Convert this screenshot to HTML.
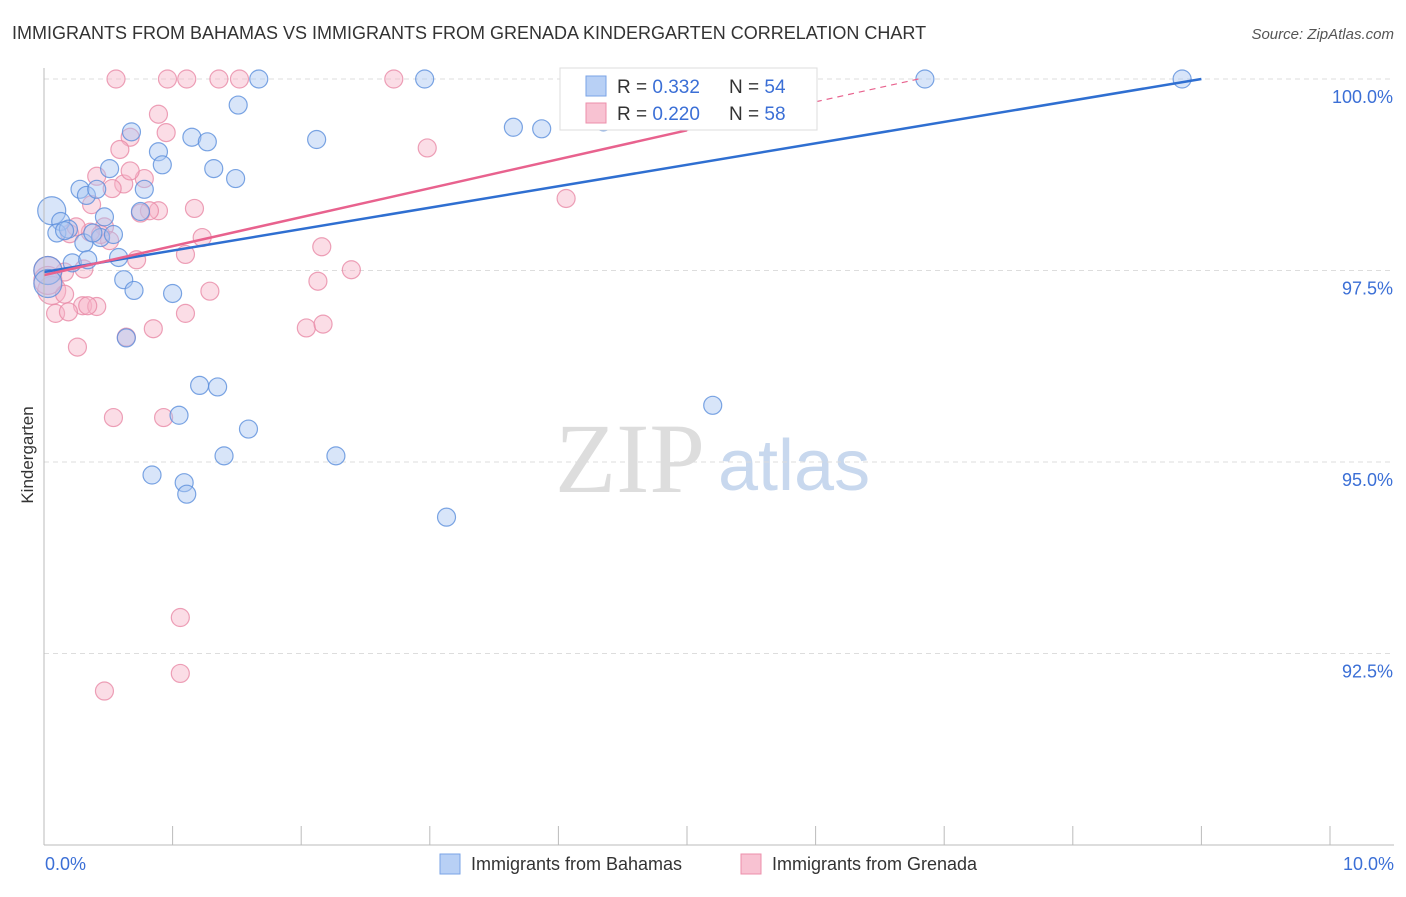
<!DOCTYPE html>
<html><head><meta charset="utf-8"><style>
body{margin:0;background:#fff;font-family:"Liberation Sans",sans-serif;}
</style></head><body>
<svg id="c" width="1406" height="892" xmlns="http://www.w3.org/2000/svg">
<text x="12" y="39" font-size="18" fill="#333">IMMIGRANTS FROM BAHAMAS VS IMMIGRANTS FROM GRENADA KINDERGARTEN CORRELATION CHART</text>
<text x="1394" y="39" font-size="15" fill="#555" font-style="italic" text-anchor="end">Source: ZipAtlas.com</text>
<text x="555" y="492" font-size="100" fill="#ddd" font-family="Liberation Serif,serif">ZIP</text>
<text x="718" y="490" font-size="72" fill="#c8d8ee">atlas</text>
<text x="33" y="455" font-size="17" fill="#333" transform="rotate(-90 33 455)" text-anchor="middle">Kindergarten</text>
<g id="grid"></g><g id="pts"></g><g id="lines"></g>
<line x1="44" y1="68" x2="44" y2="845" stroke="#bbb"/>
<line x1="44" y1="845" x2="1394" y2="845" stroke="#bbb"/>
<text x="45" y="870" font-size="18" fill="#3b6fd6">0.0%</text>
<text x="1394" y="870" font-size="18" fill="#3b6fd6" text-anchor="end">10.0%</text>
<g>
<rect x="560" y="68" width="257" height="62" fill="#fff" stroke="#ddd"/>
<rect x="586" y="76" width="20" height="20" fill="#b8d0f5" stroke="#7aa3e6"/>
<rect x="586" y="103" width="20" height="20" fill="#f8c2d2" stroke="#ec8fab"/>
<text x="617" y="93" font-size="19" fill="#333">R = <tspan fill="#3b6fd6">0.332</tspan><tspan x="729">N = </tspan><tspan fill="#3b6fd6">54</tspan></text>
<text x="617" y="120" font-size="19" fill="#333">R = <tspan fill="#3b6fd6">0.220</tspan><tspan x="729">N = </tspan><tspan fill="#3b6fd6">58</tspan></text>
</g>
<g>
<rect x="440" y="854" width="20" height="20" fill="#b8d0f5" stroke="#7aa3e6"/>
<text x="471" y="870" font-size="18" fill="#333">Immigrants from Bahamas</text>
<rect x="741" y="854" width="20" height="20" fill="#f8c2d2" stroke="#ec8fab"/>
<text x="772" y="870" font-size="18" fill="#333">Immigrants from Grenada</text>
</g>
</svg>
<script>
const yTicks=[100,97.5,95,92.5];
const xTickVals=[0,1,2,3,4,5,6,7,8,9,10];
const bahamasX=[0.06,0.13,0.10,0.19,0.31,0.28,0.33,0.41,0.47,0.51,0.44,0.54,0.58,0.62,0.68,0.70,0.75,0.78,0.89,0.92,1.00,1.05,1.15,1.21,1.27,1.32,1.35,1.40,1.49,1.51,1.59,1.67,2.12,2.27,0.84,1.09,1.11,0.64,2.96,3.13,3.65,3.87,4.35,4.94,5.20,5.91,6.85,8.85,0.03,0.03,0.22,0.16,0.38,0.34];
const bahamasY=[98.28,98.14,97.99,98.04,97.86,98.56,98.48,98.56,98.2,98.83,97.93,97.97,97.67,97.38,99.31,97.24,98.27,98.56,99.05,98.88,97.2,95.61,99.24,96.0,99.18,98.83,95.98,95.08,98.7,99.66,95.43,100,99.21,95.08,94.83,94.73,94.58,96.62,100,94.28,99.37,99.35,99.44,100,95.74,100,100,100,97.5,97.33,97.6,98.02,97.99,97.64];
const grenadaX=[0.56,0.96,1.11,1.36,1.52,2.72,0.89,0.95,0.67,0.59,0.78,0.62,0.53,0.41,0.37,0.67,0.89,0.82,1.17,0.75,0.47,0.36,0.20,0.51,1.23,1.10,0.72,2.16,2.39,0.31,0.16,0.03,0.06,0.16,1.29,2.13,0.30,0.41,0.34,0.09,0.19,1.10,0.85,2.04,2.17,0.64,0.26,0.54,0.93,1.06,1.06,0.47,2.98,4.06,4.73,0.03,0.25,0.44];
const grenadaY=[100,100,100,100,100,100,99.54,99.3,99.24,99.08,98.7,98.63,98.57,98.73,98.36,98.8,98.28,98.28,98.31,98.25,98.07,98.0,97.98,97.89,97.93,97.71,97.64,97.81,97.51,97.52,97.48,97.5,97.24,97.19,97.23,97.36,97.04,97.03,97.04,96.94,96.96,96.94,96.74,96.75,96.8,96.63,96.5,95.58,95.58,92.97,92.24,92.01,99.1,98.44,99.77,97.37,98.07,97.97];
const X=v=>44+v*128.6, Y=v=>79+(100-v)*76.6;
const NS='http://www.w3.org/2000/svg';
function mk(t,a,p){const e=document.createElementNS(NS,t);for(const k in a)e.setAttribute(k,a[k]);p.appendChild(e);return e;}
const grid=document.getElementById('grid');
yTicks.forEach(t=>{
 const l=mk('line',{x1:44,x2:1394,y1:Y(t),y2:Y(t),stroke:'#ddd','stroke-dasharray':'5,4'},grid);
 
 
 const tx=mk('text',{x:1393,y:Y(t)+24,'font-size':18,fill:'#3b6fd6','text-anchor':'end'},grid);
 tx.textContent=t.toFixed(1)+'%';
 
 
});
xTickVals.forEach(t=>{
 const l=mk('line',{x1:X(t),x2:X(t),y1:826,y2:845,stroke:'#bbb'},grid);
 
 
});
const pts=document.getElementById('pts');
function drawSeries(xs,ys,fill,stroke,name){
 xs.forEach((x,i)=>{
  const big=(x<0.1&&Math.abs(ys[i]-97.4)<0.3)||(i===0&&name==='bahamas-point');
  const c=mk('circle',{cx:X(x),cy:Y(ys[i]),r:big?14:9,fill:fill,'fill-opacity':0.45,stroke:stroke,'stroke-opacity':0.8,'stroke-width':1.2},pts);
  
  
 });
}
drawSeries(grenadaX,grenadaY,'#f6b4c8','#e889a6','grenada-point');
drawSeries(bahamasX,bahamasY,'#a9c6f2','#5b8edc','bahamas-point');
const lines=document.getElementById('lines');
let l=mk('line',{x1:X(0),y1:Y(97.48),x2:X(9),y2:Y(100),stroke:'#2f6fd1','stroke-width':2.5},lines);


l=mk('line',{x1:X(0),y1:Y(97.44),x2:X(5.0),y2:Y(99.33),stroke:'#e8628e','stroke-width':2.5},lines);


l=mk('line',{x1:X(5.0),y1:Y(99.33),x2:X(6.8),y2:Y(100),stroke:'#e8628e','stroke-width':1.2,'stroke-dasharray':'6,5'},lines);


</script>
</body></html>
